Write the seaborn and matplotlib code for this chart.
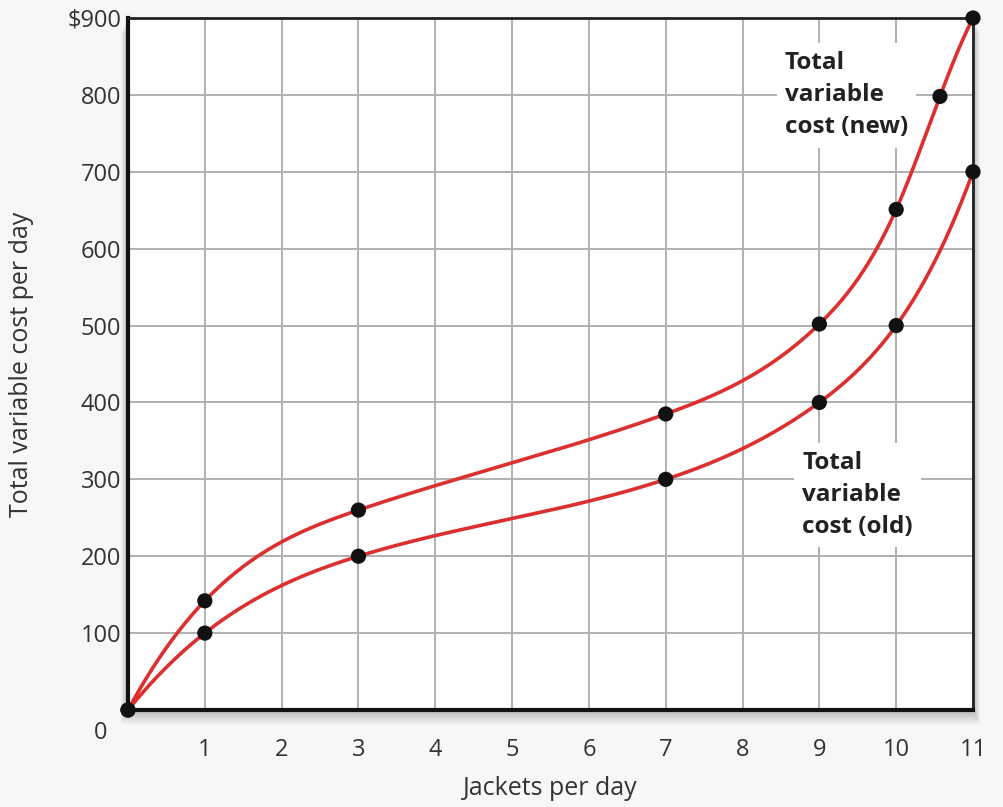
import numpy as np
import pandas as pd
import matplotlib
matplotlib.use("Agg")
import matplotlib.pyplot as plt
import seaborn as sns
from matplotlib.patches import Rectangle

# ---- data ----
old_x = [0, 1, 3, 7, 9, 10, 11]
old_y = [0, 100, 200, 300, 400, 500, 700]
new_x = [0, 1, 3, 7, 9, 10, 10.57, 11]
new_y = [0, 142, 260, 385, 502, 651, 798, 900]
x_ticks = [1, 2, 3, 4, 5, 6, 7, 8, 9, 10, 11]
y_ticks = [100, 200, 300, 400, 500, 600, 700, 800, 900]
y_labels = ["100", "200", "300", "400", "500", "600", "700", "800", "$900"]


def spline(xk, yk, xs):
    """Cubic spline (not-a-knot) through the given points, for drawing."""
    xk = np.asarray(xk, float); yk = np.asarray(yk, float)
    n = len(xk); h = np.diff(xk)
    A = np.zeros((n, n)); r = np.zeros(n)
    for i in range(1, n - 1):
        A[i, i - 1] = h[i - 1]; A[i, i] = 2 * (h[i - 1] + h[i]); A[i, i + 1] = h[i]
        r[i] = 6 * ((yk[i + 1] - yk[i]) / h[i] - (yk[i] - yk[i - 1]) / h[i - 1])
    A[0, 0] = h[1]; A[0, 1] = -(h[0] + h[1]); A[0, 2] = h[0]
    A[-1, -3] = h[-1]; A[-1, -2] = -(h[-2] + h[-1]); A[-1, -1] = h[-2]
    M = np.linalg.solve(A, r)
    idx = np.clip(np.searchsorted(xk, xs) - 1, 0, n - 2)
    x0 = xk[idx]; x1 = xk[idx + 1]; hh = h[idx]
    return (M[idx] * (x1 - xs) ** 3 / (6 * hh) + M[idx + 1] * (xs - x0) ** 3 / (6 * hh)
            + (yk[idx] / hh - M[idx] * hh / 6) * (x1 - xs)
            + (yk[idx + 1] / hh - M[idx + 1] * hh / 6) * (xs - x0))


sns.set_theme(style="white")
plt.rcParams['font.family'] = ['Open Sans', 'DejaVu Sans']

fig = plt.figure(figsize=(10.04, 8.07), dpi=100, facecolor="#f7f7f7")
L, B, R, T = 128 / 1004, 97 / 807, 973 / 1004, 789 / 807
# soft drop shadow behind the plot frame
for i in range(7):
    off = (i + 1) * 2.0
    fig.patches.append(Rectangle((L - off * 0.5 / 1004, B - off / 807),
                                 R - L + off / 1004, T - B,
                                 transform=fig.transFigure,
                                 facecolor="black", alpha=0.035,
                                 edgecolor="none", zorder=0))
ax = fig.add_axes([L, B, R - L, T - B])
ax.set_zorder(2)
ax.set_facecolor("white")

ax.set_xlim(0, 11)
ax.set_ylim(0, 900)
ax.set_xticks(x_ticks)
ax.set_yticks(y_ticks)
ax.set_yticklabels(y_labels)
ax.grid(True, color="#b0b0b0", lw=1.4)
ax.set_axisbelow(True)
ax.tick_params(axis="both", length=0, labelsize=17, colors="#333333")
ax.tick_params(axis="x", pad=20)
ax.tick_params(axis="y", pad=5)
for s in ["left", "bottom"]:
    ax.spines[s].set_linewidth(3)
    ax.spines[s].set_color("#111111")
for s in ["top", "right"]:
    ax.spines[s].set_linewidth(2)
    ax.spines[s].set_color("#222222")

xs = np.linspace(0, 11, 800)
curves = pd.concat([
    pd.DataFrame({"x": xs, "y": spline(old_x, old_y, xs), "s": "old"}),
    pd.DataFrame({"x": xs, "y": spline(new_x, new_y, xs), "s": "new"}),
])
pts = pd.concat([
    pd.DataFrame({"x": old_x, "y": old_y, "s": "old"}),
    pd.DataFrame({"x": new_x, "y": new_y, "s": "new"}),
])
sns.lineplot(data=curves, x="x", y="y", units="s", estimator=None,
             color="#dc2f2f", lw=2.6, ax=ax, legend=False, zorder=3,
             clip_on=False)
sns.scatterplot(data=pts, x="x", y="y", color="#111111", s=120,
                edgecolor="none", ax=ax, legend=False, zorder=4,
                clip_on=False)

ax.set_xlabel("Jackets per day", fontsize=18, color="#333333", labelpad=10)
ax.set_ylabel("Total variable cost per day", fontsize=18, color="#333333",
              labelpad=24)
ax.text(-0.36, -30, "0", fontsize=17, color="#333333", ha="center",
        va="center", clip_on=False)

box = dict(facecolor="white", edgecolor="none", pad=6)
ax.text(8.55, 857, "Total\nvariable\ncost (new)", fontsize=17.5,
        fontweight="bold", color="#222222", ha="left", va="top",
        linespacing=1.45, bbox=box, zorder=2)
ax.text(8.78, 337, "Total\nvariable\ncost (old)", fontsize=17.5,
        fontweight="bold", color="#222222", ha="left", va="top",
        linespacing=1.45, bbox=box, zorder=2)

fig.savefig("out.png", dpi=100, facecolor=fig.get_facecolor())
